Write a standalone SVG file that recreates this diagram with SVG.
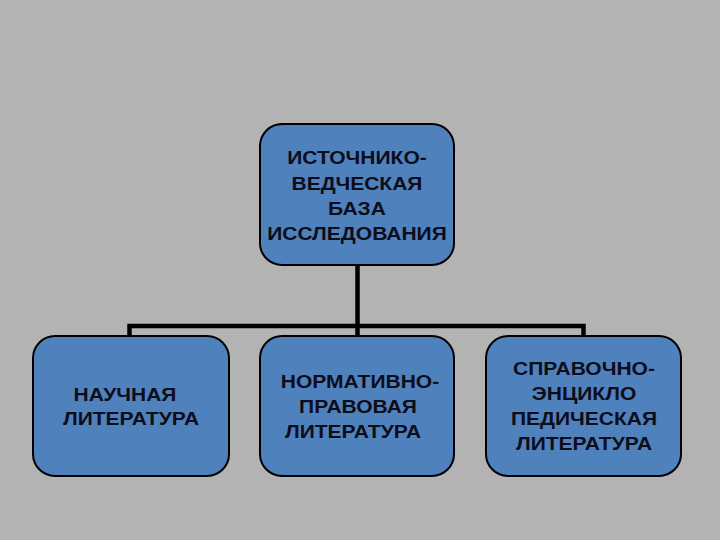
<svg xmlns="http://www.w3.org/2000/svg" width="720" height="540" viewBox="0 0 720 540">
<style>
.box{fill:#4f81bd;stroke:#000;stroke-width:2}
.t{font-family:"Liberation Sans",Arial,sans-serif;font-weight:bold;font-size:18.6px;fill:#0d0d1a;text-anchor:middle}
.c{fill:none;stroke:#000;stroke-width:4.5;stroke-linecap:butt;stroke-linejoin:miter}
</style>
<rect width="720" height="540" fill="#b3b3b3"/>
<g id="connectors">
<path class="c" d="M357.5 265 V326"/>
<path class="c" d="M129.5 337 V326 H583.5 V337"/>
<path class="c" d="M357.5 326 V337"/>
</g>
<g id="root">
<rect class="box" x="260" y="124" width="194" height="141" rx="22"/>
<g transform="translate(357,0) scale(1.13,1)">
<text class="t" x="0" y="164">ИСТОЧНИКО-</text>
<text class="t" x="0" y="190">ВЕДЧЕСКАЯ</text>
<text class="t" x="0" y="215">БАЗА</text>
<text class="t" x="0" y="240">ИССЛЕДОВАНИЯ</text>
</g>
</g>
<g id="science">
<rect class="box" x="33" y="336" width="196" height="140" rx="22"/>
<g transform="translate(125,0) scale(1.13,1)"><text class="t" x="0" y="401">НАУЧНАЯ</text></g>
<g transform="translate(131,0) scale(1.13,1)"><text class="t" x="0" y="425">ЛИТЕРАТУРА</text></g>
</g>
<g id="normative">
<rect class="box" x="260" y="336" width="194" height="140" rx="22"/>
<g transform="translate(360,0) scale(1.13,1)"><text class="t" x="0" y="388">НОРМАТИВНО-</text></g>
<g transform="translate(358,0) scale(1.13,1)"><text class="t" x="0" y="413">ПРАВОВАЯ</text></g>
<g transform="translate(353,0) scale(1.13,1)"><text class="t" x="0" y="438">ЛИТЕРАТУРА</text></g>
</g>
<g id="reference">
<rect class="box" x="486" y="336" width="195" height="140" rx="22"/>
<g transform="translate(584,0) scale(1.13,1)">
<text class="t" x="0" y="375">СПРАВОЧНО-</text>
<text class="t" x="0" y="400">ЭНЦИКЛО</text>
<text class="t" x="0" y="425">ПЕДИЧЕСКАЯ</text>
<text class="t" x="0" y="450">ЛИТЕРАТУРА</text>
</g>
</g>
</svg>
